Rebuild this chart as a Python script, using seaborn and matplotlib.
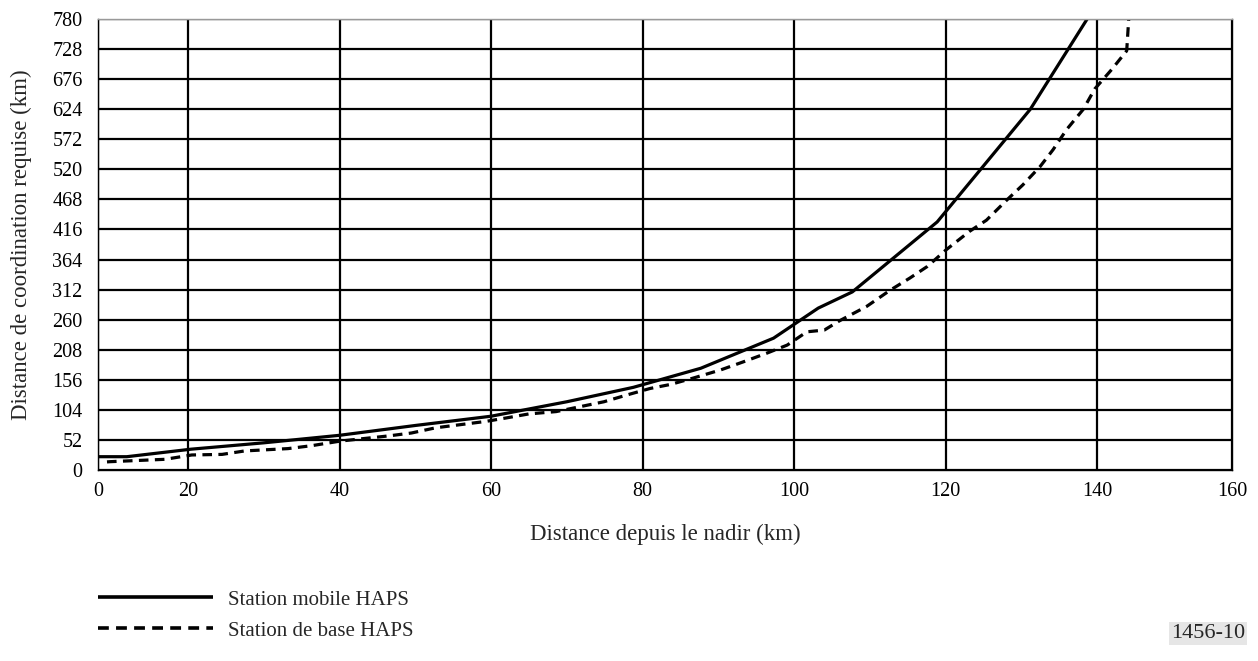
import matplotlib
matplotlib.use("Agg")
import matplotlib.pyplot as plt
import numpy as np
import pandas as pd
import seaborn as sns

# values
mobile_x = [0, 6.4, 20.4, 30, 40, 50, 60, 70, 78.8, 87.7, 97.3, 103.2, 107.7, 118.9, 131.2, 138.7]
mobile_y = [23, 23, 36, 47, 60, 77, 93, 118, 143, 176, 228, 280, 308, 429, 624, 780]

base_x = [2, 2.7, 14.9, 20.5, 24.5, 27.5, 33.2, 36.3, 40.1, 46.5, 49.5, 52.7, 55.7, 59.3,
          62, 65, 68.6, 71.2, 74.9, 78, 81, 83.7, 86.7, 90.3, 93.3, 96.4, 99.1, 101.7,
          104, 106, 109.6, 112.7, 115.3, 117.6, 120.1, 123.2, 125.4, 128.1, 130.2, 132.5,
          134.2, 136, 138.2, 139.7, 142.2, 144.4, 144.7]
base_y = [14, 14.4, 18.5, 26, 27, 33, 37, 42, 50, 59, 64, 73, 78, 84, 90, 97, 101, 108,
          118, 130, 141, 148, 159, 173, 187, 202, 216, 239, 242, 258, 283, 311, 332, 352,
          381, 413, 432, 467, 493, 525, 554, 589, 624, 659, 693, 725, 780]

series_names = ["Station mobile HAPS", "Station de base HAPS"]
x_ticks = [0, 20, 40, 60, 80, 100, 120, 140, 160]
y_ticks = list(range(0, 781, 52))

df = pd.concat([
    pd.DataFrame({"x": mobile_x, "y": mobile_y, "serie": series_names[0]}),
    pd.DataFrame({"x": base_x, "y": base_y, "serie": series_names[1]}),
], ignore_index=True)

sns.set_style("white")
plt.rcParams["font.family"] = ["Liberation Serif", "DejaVu Serif"]
plt.rcParams["font.size"] = 14

# the source axis is not evenly spaced: first and last intervals differ
knots_in = np.array([0, 20, 140, 160], dtype=float)
knots_out = np.array([0, 90, 999, 1134], dtype=float)


def _pw(v, a, b):
    v = np.asarray(v, dtype=float)
    out = np.interp(v, a, b)
    lo = v < a[0]
    hi = v > a[-1]
    out[lo] = b[0] + (v[lo] - a[0]) * (b[1] - b[0]) / (a[1] - a[0])
    out[hi] = b[-1] + (v[hi] - a[-1]) * (b[-1] - b[-2]) / (a[-1] - a[-2])
    return out


def fwd(v):
    return _pw(v, knots_in, knots_out)


def inv(v):
    return _pw(v, knots_out, knots_in)


fig = plt.figure(figsize=(12.58, 6.61), dpi=100)
ax = fig.add_axes([98 / 1258, 1 - 470 / 661, (1232 - 98) / 1258, (470 - 19) / 661])
ax.set_xscale("function", functions=(fwd, inv))

sns.lineplot(
    data=df, x="x", y="y", style="serie", hue="serie",
    palette=["black", "black"], dashes=[(1, 0), (3, 2)],
    linewidth=2.3, estimator=None, sort=False, ax=ax, legend=True,
)

ax.set_xlim(0, 160)
ax.set_ylim(0, 780)
ax.set_xticks(x_ticks)
ax.set_yticks(y_ticks)
ax.tick_params(length=0, labelsize=14.5, colors="black")
ax.tick_params(axis="x", pad=9)
ax.tick_params(axis="y", pad=11)
ax.grid(True, color="black", linewidth=1.6)
ax.set_axisbelow(True)
for s in ax.spines.values():
    s.set_color("black")
    s.set_linewidth(1.0)
ax.spines["top"].set_color("#999999")

ax.set_xlabel("Distance depuis le nadir (km)", fontsize=16.5, labelpad=16)
ax.set_ylabel("Distance de coordination requise (km)", fontsize=16.5, labelpad=15)

handles, labels = ax.get_legend_handles_labels()
ax.get_legend().remove()
for h in handles:
    h.set_linewidth(2.6)
fig.legend(
    handles, labels, loc="upper left", bbox_to_anchor=(98 / 1258, 1 - 590 / 661),
    frameon=False, borderpad=0, borderaxespad=0, handlelength=5.5,
    handletextpad=0.75, labelspacing=0.55, fontsize=15,
)

fig.text(1208 / 1258, 1 - 633 / 661, "1456-10", ha="center", va="center", fontsize=16,
         bbox=dict(facecolor="#e6e6e6", edgecolor="none", pad=1.5))

fig.savefig("out.png", dpi=100)
